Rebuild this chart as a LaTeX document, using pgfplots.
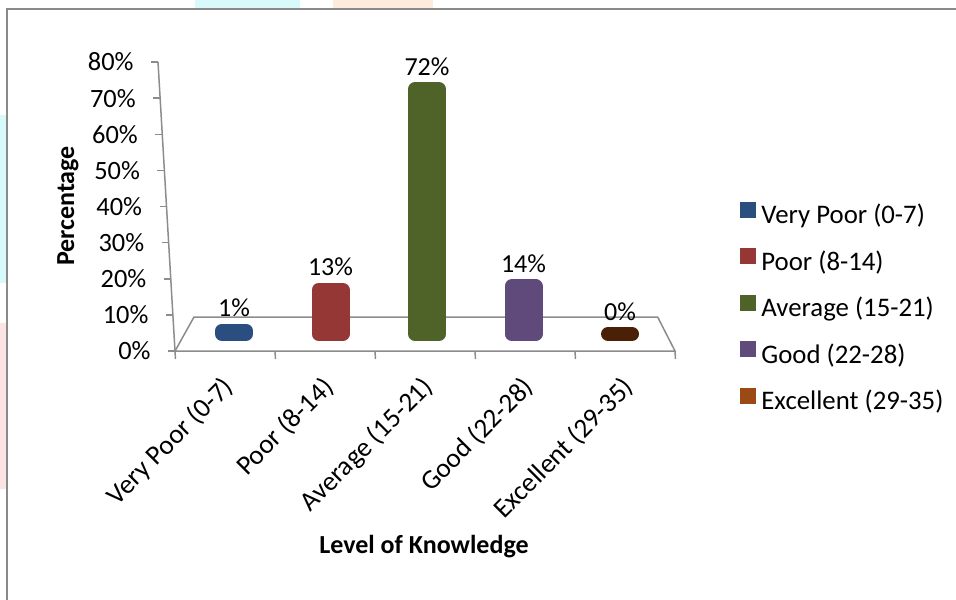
\documentclass[border=0pt]{standalone}
\usepackage{pgfplots}
\pgfplotsset{compat=1.18}
\usepackage{fontspec}
\setmainfont{Carlito}

\definecolor{axisgray}{HTML}{8C8C8C}
\definecolor{framegray}{HTML}{8A8A8A}
\definecolor{vpoor}{HTML}{2A4E7F}
\definecolor{poor}{HTML}{953735}
\definecolor{avg}{HTML}{4F6228}
\definecolor{good}{HTML}{5F4A7B}
\definecolor{excel}{HTML}{4A2106}
\definecolor{excelkey}{HTML}{9A4A12}
\definecolor{washcyan}{HTML}{D8FAFA}
\definecolor{washpeach}{HTML}{FDEBDB}
\definecolor{washpink}{HTML}{FCE4E4}

\pgfplotstableread{
x  val
0  1
1  13
2  72
3  14
4  0
}\knowledge

\begin{document}
\begin{tikzpicture}
% page area, 1 unit = 0.5pt
\useasboundingbox (0,0) rectangle (478pt,299.5pt);
\begin{scope}[x=0.5pt,y=0.5pt]
  \fill[washcyan]  (195,590) rectangle (300,599);
  \fill[washpeach] (333,590) rectangle (433,599);
  \fill[washcyan]  (0,316) rectangle (7,484);
  \fill[washpink]  (0,110) rectangle (7,276);
  \draw[framegray, line width=1pt] (7,-20) -- (7,590) -- (990,590);
\end{scope}

% value axis (leaning) and category ticks
\begin{axis}[
  at={(112.5pt,124pt)}, anchor=origin,
  x={(50pt,0pt)}, y={(-0.10625pt,1.80625pt)},
  xmin=-0.5, xmax=4.5, ymin=0, ymax=80,
  axis lines*=left,
  axis line style={axisgray, line width=0.75pt},
  tick style={axisgray, line width=0.75pt},
  tick align=outside,
  major tick length=3.5pt,
  minor tick length=4pt,
  /pgf/number format/assume math mode=true,
  ytick={0,10,...,80},
  yticklabel={\pgfmathprintnumber{\tick}\%},
  yticklabel style={font=\fontsize{13.2}{15}\selectfont, anchor=east, inner sep=0pt, xshift=-8.5pt},
  xtick={0,1,2,3,4},
  xticklabels={Very Poor (0-7), Poor (8-14), Average (15-21), Good (22-28), Excellent (29-35)},
  major x tick style={draw=none},
  minor xtick={-0.5,0.5,...,4.5},
  xticklabel style={font=\fontsize{13.6}{15}\selectfont, xshift=2pt, yshift=-12.5pt, rotate=45, anchor=east, inner sep=0pt},
]
\end{axis}

% floor and bars
\begin{axis}[
  at={(92.875pt,124pt)}, anchor=south west,
  scale only axis, width=241.25pt, height=144.5pt,
  xmin=-0.5, xmax=4.5, ymin=-5, ymax=80,
  hide axis, clip=false,
  ybar, bar shift=0pt, bar width=12pt,
  every axis plot/.append style={line width=7pt, line join=round},
  /pgf/number format/assume math mode=true,
  nodes near coords={\pgfmathprintnumber{\pgfplotspointmeta}\%},
  every node near coord/.append style={font=\fontsize{13}{15}\selectfont, text=black, anchor=base, inner sep=0pt, yshift=7pt},
  legend image code/.code={\fill[#1,draw=none] (0pt,0pt) rectangle (8pt,8pt);},
  legend cell align=left,
  legend style={at={(1.1487,0.5176)}, anchor=north west, draw=none, fill=none,
    inner sep=0pt, font=\fontsize{13.4}{15}\selectfont,
    nodes={inner sep=0pt, text height=9.3pt, text depth=3.2pt},
    row sep=9pt, column sep=2.5pt},
]
\draw[axisgray, line width=0.75pt, fill=white]
  (axis cs:-0.611,-5) -- (axis cs:4.570,-5) -- (axis cs:4.39,5) -- (axis cs:-0.4145,5) -- cycle;
\addplot[fill=vpoor, draw=vpoor] table[x=x, y=val, restrict expr to domain={\thisrow{x}}{0:0}] {\knowledge};
\addlegendentry{Very Poor (0-7)}
\addplot[fill=poor, draw=poor] table[x=x, y=val, restrict expr to domain={\thisrow{x}}{1:1}] {\knowledge};
\addlegendentry{Poor (8-14)}
\addplot[fill=avg, draw=avg] table[x=x, y=val, restrict expr to domain={\thisrow{x}}{2:2}] {\knowledge};
\addlegendentry{Average (15-21)}
\addplot[fill=good, draw=good] table[x=x, y=val, restrict expr to domain={\thisrow{x}}{3:3}] {\knowledge};
\addlegendentry{Good (22-28)}
\addplot[fill=excel, draw=excel,
  legend image code/.code={\fill[excelkey,draw=none] (0pt,0pt) rectangle (8pt,8pt);}]
  table[x=x, y=val, restrict expr to domain={\thisrow{x}}{4:4}] {\knowledge};
\addlegendentry{Excellent (29-35)}
\end{axis}

\node[rotate=90, font=\bfseries\fontsize{13}{15}\selectfont] at (34pt,196.5pt) {Percentage};
\node[font=\bfseries\fontsize{13}{15}\selectfont] at (212pt,26pt) {Level of Knowledge};
\end{tikzpicture}
\end{document}
